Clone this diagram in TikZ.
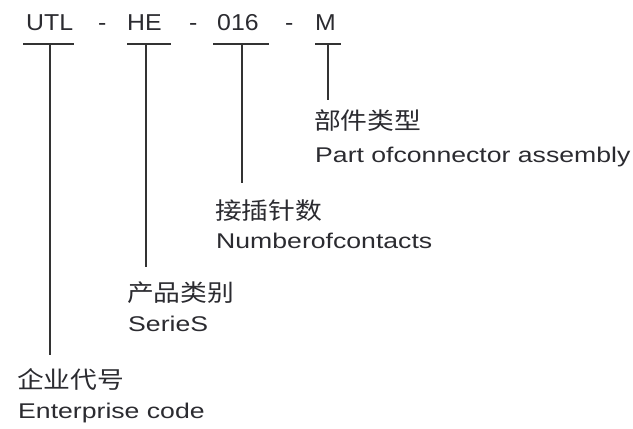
\documentclass[tikz,border=0pt]{standalone}
\usepackage{fontspec}
\setmainfont[FakeStretch=1.25]{Liberation Sans}
\newfontfamily\topfont[FakeStretch=1.08]{Liberation Sans}
\newfontfamily\cjk[FakeStretch=1.14]{Noto Sans CJK SC}
\definecolor{ink}{HTML}{2B2B30}
\definecolor{linec}{HTML}{333333}
\tikzset{
  code/.style={inner sep=0pt, anchor=base west, text=ink, font=\topfont\fontsize{23}{26}\selectfont},
  zh/.style={inner sep=0pt, anchor=west, text=ink, font=\cjk\fontsize{23.5}{26}\selectfont},
  en/.style={inner sep=0pt, anchor=base west, text=ink, font=\fontsize{21.3}{24}\selectfont},
  bar/.style={draw=linec, line width=2pt},
}
\begin{document}
\begin{tikzpicture}[x=1pt,y=-1pt]
\useasboundingbox (0,0) rectangle (633,429);
% code parts
\node[code] (utl) at (26,30) {UTL};
\node[code] (d1) at (98,30) {-};
\node[code] (he) at (127,30) {HE};
\node[code] (d2) at (189,30) {-};
\node[code] (num) at (217,30) {016};
\node[code] (d3) at (285,30) {-};
\node[code] (m) at (315,30) {M};
% bar coordinates
\coordinate (b1l) at (23,44); \coordinate (b1r) at (74,44); \coordinate (b1m) at (50,44); \coordinate (b1e) at (50,355);
\coordinate (b2l) at (127,44); \coordinate (b2r) at (171,44); \coordinate (b2m) at (146,44); \coordinate (b2e) at (146,267);
\coordinate (b3l) at (213,44); \coordinate (b3r) at (269,44); \coordinate (b3m) at (242,44); \coordinate (b3e) at (242,183);
\coordinate (b4l) at (315,44); \coordinate (b4r) at (341,44); \coordinate (b4m) at (328,44); \coordinate (b4e) at (328,100);
\draw[bar] (b1l) -- (b1r); \draw[bar] (b1m) -- (b1e);
\draw[bar] (b2l) -- (b2r); \draw[bar] (b2m) -- (b2e);
\draw[bar] (b3l) -- (b3r); \draw[bar] (b3m) -- (b3e);
\draw[bar] (b4l) -- (b4r); \draw[bar] (b4m) -- (b4e);
% labels
\node[zh] (mzh) at (314,121) {部件类型};
\node[en] (men) at (315,162) {Part ofconnector assembly};
\node[zh] (nzh) at (215,211) {接插针数};
\node[en] (nen) at (216,248) {Numberofcontacts};
\node[zh] (hzh) at (127,293) {产品类别};
\node[en] (hen) at (128,331) {SerieS};
\node[zh] (uzh) at (17,379) {企业代号};
\node[en] (uen) at (18,418) {Enterprise code};
\end{tikzpicture}
\end{document}
